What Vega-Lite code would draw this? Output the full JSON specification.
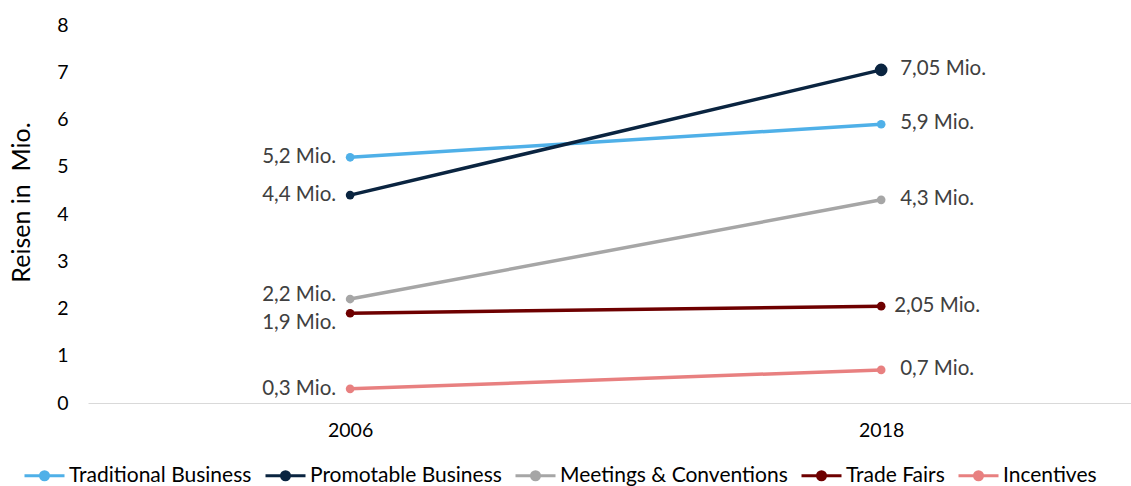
{
  "$schema": "https://vega.github.io/schema/vega-lite/v6.json",
  "width": 1043,
  "height": 378,
  "autosize": {"type": "none"},
  "padding": {"left": 88, "top": 25, "right": 0, "bottom": 83},
  "config": {"font": "Lato", "view": {"stroke": null}},
  "data": {
    "values": [
      {"series": "Traditional Business", "year": "2006", "value": 5.2, "label": "5,2 Mio."},
      {"series": "Traditional Business", "year": "2018", "value": 5.9, "label": "5,9 Mio."},
      {"series": "Promotable Business", "year": "2006", "value": 4.4, "label": "4,4 Mio."},
      {"series": "Promotable Business", "year": "2018", "value": 7.05, "label": "7,05 Mio."},
      {"series": "Meetings & Conventions", "year": "2006", "value": 2.2, "label": "2,2 Mio."},
      {"series": "Meetings & Conventions", "year": "2018", "value": 4.3, "label": "4,3 Mio."},
      {"series": "Trade Fairs", "year": "2006", "value": 1.9, "label": "1,9 Mio."},
      {"series": "Trade Fairs", "year": "2018", "value": 2.05, "label": "2,05 Mio."},
      {"series": "Incentives", "year": "2006", "value": 0.3, "label": "0,3 Mio."},
      {"series": "Incentives", "year": "2018", "value": 0.7, "label": "0,7 Mio."}
    ]
  },
  "encoding": {
    "x": {
      "field": "year", "type": "ordinal",
      "scale": {"type": "point", "padding": 0.482, "align": 0.512},
      "axis": {"title": null, "labelAngle": 0, "ticks": false, "tickSize": 0, "labelPadding": 18, "labelFontSize": 19.5, "labelColor": "#000000", "domainColor": "#D9D9D9", "domainWidth": 1.2, "grid": false}
    },
    "y": {
      "field": "value", "type": "quantitative",
      "scale": {"domain": [0, 8], "nice": false},
      "axis": {"title": "Reisen in \u00a0Mio.", "values": [0,1,2,3,4,5,6,7,8], "domain": false, "ticks": false, "tickSize": 0, "grid": false, "labelPadding": 20, "labelFontSize": 19.5, "labelColor": "#000000", "titleFontSize": 25, "titleFontWeight": "normal", "titleColor": "#000000", "titlePadding": 22, "titleY": 177}
    }
  },
  "layer": [
    {
      "mark": {"type": "line", "strokeWidth": 3.5},
      "encoding": {
        "color": {
          "field": "series", "type": "nominal",
          "scale": {
            "domain": ["Traditional Business", "Promotable Business", "Meetings & Conventions", "Trade Fairs", "Incentives"],
            "range": ["#4FB0E8", "#0A2440", "#A6A6A6", "#6E0000", "#E88080"]
          },
          "legend": {
            "orient": "none", "legendX": -65, "legendY": 429, "direction": "horizontal", "title": null,
            "symbolType": "M-1,0L1,0M-0.2,0A0.2,0.2 0 1,1 0.2,0A0.2,0.2 0 1,1 -0.2,0Z",
            "symbolSize": 1600, "symbolStrokeWidth": 3,
            "labelFont": "Lato", "labelFontSize": 21, "labelColor": "#000000", "labelLimit": 300,
            "labelOffset": 3, "columnPadding": 7,
            "encode": {"symbols": {"update": {"fill": {"scale": "color", "field": "value"}, "stroke": {"scale": "color", "field": "value"}, "strokeWidth": {"value": 3}, "opacity": {"value": 1}}}}
          }
        }
      }
    },
    {
      "mark": {"type": "point", "filled": true, "opacity": 1, "size": 75},
      "encoding": {"color": {"field": "series", "type": "nominal", "legend": null}}
    },
    {
      "transform": [{"filter": "datum.year == '2018' && datum.series == 'Promotable Business'"}],
      "mark": {"type": "point", "filled": true, "opacity": 1, "size": 160},
      "encoding": {"color": {"field": "series", "type": "nominal", "legend": null}}
    },
    {
      "transform": [{"filter": "datum.year == '2006' && datum.series != 'Meetings & Conventions' && datum.series != 'Trade Fairs'"}],
      "mark": {"type": "text", "align": "right", "baseline": "middle", "dx": -14, "fontSize": 20.5, "color": "#404040"},
      "encoding": {"text": {"field": "label"}}
    },
    {
      "transform": [{"filter": "datum.year == '2006' && datum.series == 'Meetings & Conventions'"}],
      "mark": {"type": "text", "align": "right", "baseline": "middle", "dx": -14, "dy": -4, "fontSize": 20.5, "color": "#404040"},
      "encoding": {"text": {"field": "label"}}
    },
    {
      "transform": [{"filter": "datum.year == '2006' && datum.series == 'Trade Fairs'"}],
      "mark": {"type": "text", "align": "right", "baseline": "middle", "dx": -14, "dy": 10, "fontSize": 20.5, "color": "#404040"},
      "encoding": {"text": {"field": "label"}}
    },
    {
      "transform": [{"filter": "datum.year == '2018' && datum.series != 'Trade Fairs'"}],
      "mark": {"type": "text", "align": "left", "baseline": "middle", "dx": 19, "dy": -1, "fontSize": 20.5, "color": "#404040"},
      "encoding": {"text": {"field": "label"}}
    },
    {
      "transform": [{"filter": "datum.year == '2018' && datum.series == 'Trade Fairs'"}],
      "mark": {"type": "text", "align": "left", "baseline": "middle", "dx": 13, "fontSize": 20.5, "color": "#404040"},
      "encoding": {"text": {"field": "label"}}
    }
  ]
}
